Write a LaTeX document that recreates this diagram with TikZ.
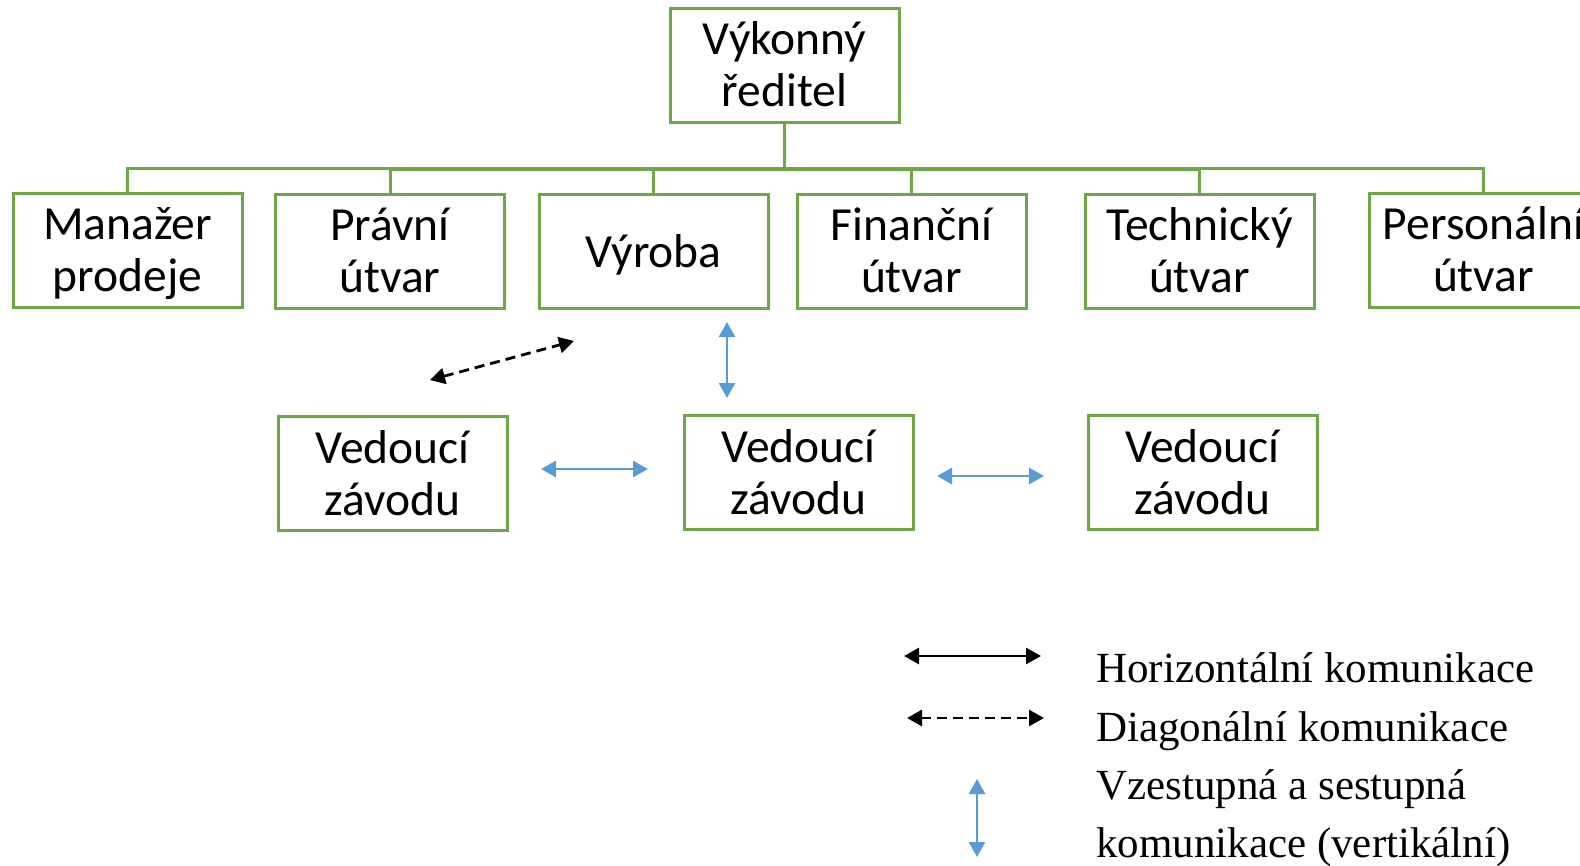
\documentclass[tikz,border=0pt]{standalone}
\usepackage{fontspec}
\setmainfont{Carlito}
\newfontfamily\legendfont{Liberation Serif}
\usetikzlibrary{arrows.meta}
\definecolor{boxgreen}{HTML}{6EA846}
\definecolor{arrblue}{HTML}{5B9BD5}
\begin{document}
\begin{tikzpicture}[x=1pt,y=-1pt,
  orgbox/.style={draw=boxgreen,line width=3pt,fill=white,rectangle,minimum width=229pt,minimum height=114pt,inner sep=0pt},
  boxtext/.style={anchor=base,inner sep=0pt,font=\fontsize{47.5}{53}\selectfont},
  orgline/.style={draw=boxgreen,line width=3pt},
  blk/.style={line width=2.8pt,black,{Triangle[length=15pt,width=16pt]}-{Triangle[length=15pt,width=16pt]}},
  blkdash/.style={blk,dash pattern=on 10pt off 6pt},
  blu/.style={line width=2.6pt,arrblue,{Triangle[length=15pt,width=16pt]}-{Triangle[length=15pt,width=16pt]}},
  legtext/.style={anchor=base west,inner sep=0pt,font=\legendfont\fontsize{43}{50}\selectfont}
]
\useasboundingbox (0,0) rectangle (1580,865);
\fill[white] (0,0) rectangle (1580,865);

\node[orgbox] (top) at (784.5,65) {};
\node[orgbox] (mgr) at (127.5,250) {};
\node[orgbox] (law) at (390,251) {};
\node[orgbox] (prod) at (653.5,251) {};
\node[orgbox] (fin) at (911.5,251) {};
\node[orgbox] (tech) at (1199.5,251) {};
\node[orgbox] (pers) at (1483.5,250) {};

\node[orgbox] (v1) at (392.5,473.5) {};
\node[orgbox] (v2) at (798.5,472.5) {};
\node[orgbox] (v3) at (1202.5,472.5) {};

% two-line labels: first baseline 11 above centre, second 41 below
\foreach \n/\a/\b in {top/Výkonný/ředitel, mgr/Manažer/prodeje, law/Právní/útvar,
  fin/Finanční/útvar, tech/Technický/útvar, pers/Personální/útvar,
  v1/Vedoucí/závodu, v2/Vedoucí/závodu, v3/Vedoucí/závodu}{
  \node[boxtext] (\n-l1) at ([yshift=10.5pt]\n.center) {\a};
  \node[boxtext] (\n-l2) at ([yshift=-41.5pt]\n.center) {\b};
}
\node[boxtext] (prod-l1) at ([yshift=-16pt]prod.center) {Výroba};

\foreach \n in {mgr,law,prod,fin,tech,pers}{
  \draw[orgline] (\n.north) -- ++(0,-23) -| (top.south);
}

% diagram arrows
\coordinate (d1) at (430,380);
\coordinate (d2) at (574,341);
\draw[blkdash] (d1) -- (d2);
\coordinate (u1) at (727,322);
\coordinate (u2) at (727,398);
\draw[blu] (u1) -- (u2);
\coordinate (h1a) at (541,469);
\coordinate (h1b) at (648,469);
\draw[blu] (h1a) -- (h1b);
\coordinate (h2a) at (937,476);
\coordinate (h2b) at (1044,476);
\draw[blu] (h2a) -- (h2b);

% legend
\coordinate (l1a) at (904,656);
\coordinate (l1b) at (1041,656);
\draw[blk] (l1a) -- (l1b);
\coordinate (l2a) at (907,718);
\coordinate (l2b) at (1044,718);
\draw[blkdash] (l2a) -- (l2b);
\coordinate (l3a) at (977,779);
\coordinate (l3b) at (977,857);
\draw[blu] (l3a) -- (l3b);

\node[legtext] (t1) at (1096,682) {Horizontální komunikace};
\node[legtext] (t2) at (1096,741) {Diagonální komunikace};
\node[legtext] (t3) at (1096,799) {Vzestupná a sestupná};
\node[legtext] (t4) at (1096,857) {komunikace (vertikální)};
\end{tikzpicture}
\end{document}
